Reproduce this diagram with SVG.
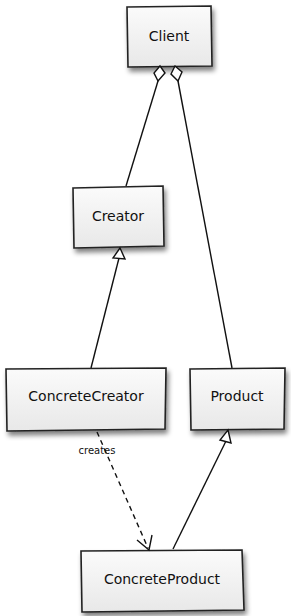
<svg xmlns="http://www.w3.org/2000/svg" width="291" height="616" viewBox="0 0 291 616">
<defs>
<linearGradient id="g" x1="0" y1="0" x2="0" y2="1">
<stop offset="0" stop-color="#fbfbfb"/><stop offset="1" stop-color="#e8e8e8"/>
</linearGradient>
<filter id="sh" x="-20%" y="-20%" width="150%" height="150%">
<feGaussianBlur in="SourceAlpha" stdDeviation="2.5"/>
<feOffset dx="2" dy="4" result="b"/>
<feComponentTransfer><feFuncA type="linear" slope="0.5"/></feComponentTransfer>
<feMerge><feMergeNode/><feMergeNode in="SourceGraphic"/></feMerge>
</filter>
</defs>
<style>
.box{fill:url(#g);stroke:#222;stroke-width:1.6;filter:url(#sh)}
.t{font-family:"Comic Sans MS","DejaVu Sans",sans-serif;font-size:14px;fill:#111;text-anchor:middle}
.c{fill:none;stroke:#111;stroke-width:1.4}
.h{fill:#fff;stroke:#111;stroke-width:1.4}
</style>
<g id="client"><path class="box" d="M127,7 L211,6 L212,66 L128,67 Z"/><text class="t" x="169" y="41">Client</text></g>
<g id="creator"><path class="box" d="M73,188 L163,186 L164,246 L74,248 Z"/><text class="t" x="118" y="221">Creator</text></g>
<g id="concretecreator"><path class="box" d="M6,369 L166,368 L165,429 L7,431 Z"/><text class="t" x="86" y="401">ConcreteCreator</text></g>
<g id="product"><path class="box" d="M190,369 L285,368 L284,429 L191,430 Z"/><text class="t" x="237" y="401">Product</text></g>
<g id="concreteproduct"><path class="box" d="M81,551 L242,550 L244,610 L82,612 Z"/><text class="t" x="162" y="584">ConcreteProduct</text></g>
<g id="connectors">
<path class="c" d="M158,81 L126,186"/>
<path class="h" d="M160,66 L165,73 L158,81 L154,73 Z"/>
<path class="c" d="M178,81 L232,368"/>
<path class="h" d="M175,66 L182,72 L178,81 L171,74 Z"/>
<path class="c" d="M119,258 L91,368"/>
<path class="h" d="M120,248 L125,259 L113,258 Z"/>
<path class="c" d="M226,441 L173,549"/>
<path class="h" d="M228,430 L231,443 L220,440 Z"/>
<path class="c" stroke-dasharray="5,4" d="M97,432 L148,548"/>
<path class="c" stroke-width="1.8" d="M137,540 L149,550 L152,535"/>
<text x="97" y="454" style="font-family:'Comic Sans MS','DejaVu Sans',sans-serif;font-size:10px;fill:#111" text-anchor="middle">creates</text>
</g>
</svg>
